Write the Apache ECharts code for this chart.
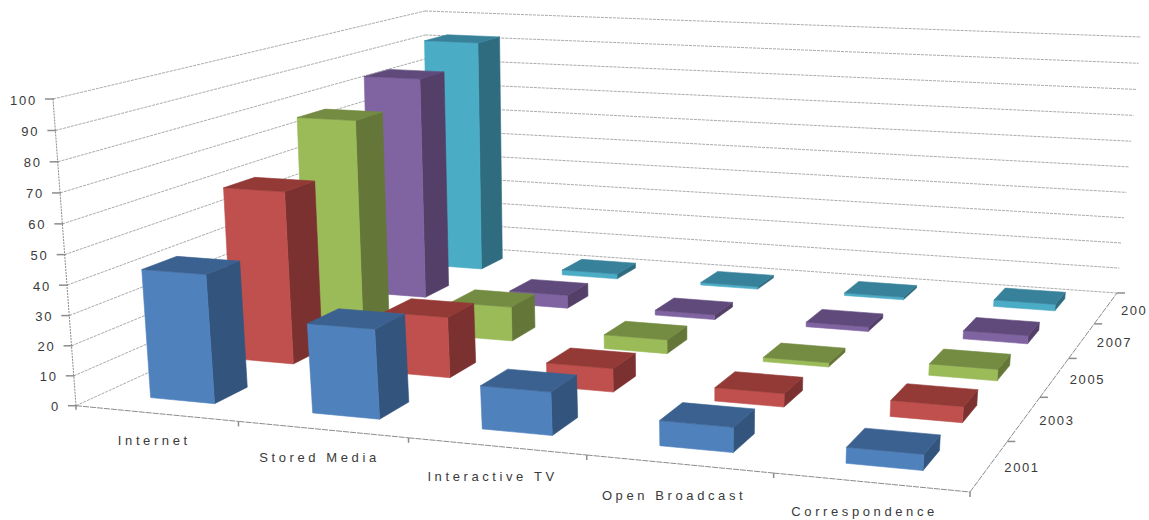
<!DOCTYPE html>
<html><head><meta charset="utf-8">
<style>html,body{margin:0;padding:0;background:#fff}#chart{width:1149px;height:520px}</style>
<script src="https://cdn.jsdelivr.net/npm/echarts@6/dist/echarts.min.js"></script>
</head><body><div id="chart"></div>
<script>
const categories = ['Internet','Stored Media','Interactive TV','Open Broadcast','Correspondence'];
const years = ['2001','2003','2005','2007','200'];
const valueTicks = [0,10,20,30,40,50,60,70,80,90,100];
const v2001 = [43,29.5,14,8,5];
const v2003 = [60.5,21,8,4.5,5.3];
const v2005 = [77,12.5,5,1.5,4];
const v2007 = [85,5,1.8,1.7,3];
const v2009 = [92.5,2,1,1,2.5];
const seriesValues = [v2001,v2003,v2005,v2007,v2009];
const palette = [
 {front:'#4F81BD',top:'#3B6190',side:'#32547D'},
 {front:'#C0504D',top:'#933936',side:'#7B3130'},
 {front:'#9BBB59',top:'#748C42',side:'#647739'},
 {front:'#8064A2',top:'#604A7B',side:'#533F67'},
 {front:'#4BACC6',top:'#37829A',side:'#2F6C7F'}
];
const W=1149,H=520;
function homog(p){
  const [x0,y0]=p[0],[x1,y1]=p[1],[x2,y2]=p[2],[x3,y3]=p[3];
  const dx1=x1-x2,dx2=x3-x2,sx=x0-x1+x2-x3,dy1=y1-y2,dy2=y3-y2,sy=y0-y1+y2-y3;
  const den=dx1*dy2-dx2*dy1,g=(sx*dy2-dx2*sy)/den,h=(dx1*sy-sx*dy1)/den;
  const a=x1-x0+g*x1,b=x3-x0+h*x3,d=y1-y0+g*y1,e=y3-y0+h*y3;
  return (u,v)=>{const q=g*u+h*v+1;return [(a*u+b*v+x0)/q,(d*u+e*v+y0)/q];};
}
const floor=homog([[76,405.7],[970,492],[1117,293],[428,244.5]]);
const ceil=homog([[53,99],[993,152],[1141,37],[425,11]]);
const K=1.03;
function P(u,v,w){
  const f=floor(u,v),c=ceil(u,v),t=w/(w+K*(1-w));
  return [f[0]+(c[0]-f[0])*t,f[1]+(c[1]-f[1])*t];
}
const GRID='#ababab',AXIS='#8c8c8c',TEXT='#3a3a3a',FONT='13px "Liberation Sans"';
function line(a,b,stroke,width,dash){
  return {type:'line',silent:true,shape:{x1:a[0],y1:a[1],x2:b[0],y2:b[1]},
    style:{stroke:stroke,lineWidth:width,lineDash:dash||null}};
}
function text(s,x,y,align){
  return {type:'text',silent:true,style:{text:s,x:x,y:y,font:FONT,fill:TEXT,align:align,verticalAlign:'middle'}};
}
function uw(api,cat,val){const c=api.coord([cat,val]);return [c[0]/W,1-c[1]/H];}
function barItem(yi){
  return function(params,api){
    const r=uw(api,api.value(0),api.value(1)),u=r[0],w=r[1];
    const u0=u-0.04,u1=u+0.04,v0=(yi+0.3)/5,v1=(yi+0.7)/5,col=palette[yi];
    const poly=(pts,c)=>({type:'polygon',silent:true,shape:{points:pts},style:{fill:c,stroke:c,lineWidth:0.6}});
    return {type:'group',children:[
      poly([P(u1,v0,0),P(u1,v1,0),P(u1,v1,w),P(u1,v0,w)],col.side),
      poly([P(u0,v0,0),P(u1,v0,0),P(u1,v0,w),P(u0,v0,w)],col.front),
      poly([P(u0,v0,w),P(u1,v0,w),P(u1,v1,w),P(u0,v1,w)],col.top)
    ]};
  };
}
const series=[];
series.push({type:'custom',name:'values axis',z:1,silent:true,animation:false,
  data:valueTicks.map(t=>[0,t]),encode:{x:0,y:1},
  renderItem(params,api){
    const w=uw(api,0,api.value(1))[1],a=P(0,0,w),b=P(0,1,w),c=P(1,1,w);
    return {type:'group',children:[
      line(a,b,GRID,1,[3,1]),line(b,c,GRID,1,[3,1]),
      line([a[0]-8,a[1]],[a[0]+1,a[1]],AXIS,1.5),
      text(String(valueTicks[params.dataIndex]),a[0]-16,a[1]+1,'right')
    ]};
  }});
series.push({type:'custom',name:'frame',z:1,silent:true,animation:false,
  data:categories.map((c,i)=>[i,0]),encode:{x:0,y:1},
  renderItem(params,api){
    const i=params.dataIndex,u=uw(api,api.value(0),0)[0];
    const kids=[],a=P(u-0.1,0,0),b=P(u+0.1,0,0),m=P(u,0,0);
    kids.push(line(a,b,AXIS,1,[6,1]));
    kids.push(line(b,[b[0],b[1]+5],AXIS,1.5));
    if(i===0){kids.push(line(a,[a[0],a[1]+4],AXIS,1.5));kids.push(line(P(0,0,0),P(0,0,1),AXIS,1,[2,1]));}
    kids.push(text(categories[i],m[0]-2-i,Math.min(m[1]+27+i*1.4,511.5),'center'));
    return {type:'group',children:kids};
  }});
series.push({type:'custom',name:'years axis',z:1,silent:true,animation:false,
  data:years.map((y,i)=>[0,i]),encode:{x:0,y:1},
  renderItem(params,api){
    const i=params.dataIndex,v0=i/5,v1=(i+1)/5,a=P(1,v0,0),b=P(1,v1,0),m=P(1,(v0+v1)/2,0);
    return {type:'group',children:[
      line(a,b,AXIS,1,[6,1]),
      line(b,[b[0]+8,b[1]],AXIS,1.5),
      text(years[i],m[0]+15,m[1]+2,'left')
    ]};
  }});
seriesValues.forEach((vals,yi)=>{
  series.push({type:'custom',name:years[yi],z:10-yi,silent:true,animation:false,
    data:vals.map((v,i)=>[i,v]),encode:{x:0,y:1},renderItem:barItem(yi)});
});
const chart=echarts.init(document.getElementById('chart'),null,{renderer:'svg',width:W,height:H});
chart.on('finished',()=>{
  document.querySelectorAll('#chart svg text').forEach(el=>{
    const s=el.textContent.trim();
    el.style.letterSpacing=/^\d+$/.test(s)?(s.length===4||s==='200'?'1.6px':'1.8px'):'3.6px';
  });
});
chart.setOption({
  animation:false,backgroundColor:'#fff',
  grid:{left:0,top:0,width:W,height:H},
  xAxis:{type:'category',data:categories,show:false},
  yAxis:{type:'value',min:0,max:100,interval:10,show:false},
  tooltip:{show:false},legend:{show:false},
  series:series
});
</script></body></html>
